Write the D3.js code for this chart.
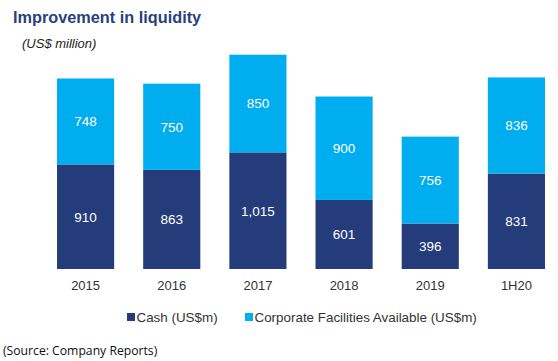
<!DOCTYPE html>
<html>
<head>
<meta charset="utf-8">
<script src="https://cdn.jsdelivr.net/npm/d3@7"></script>
<style>
  body { margin: 0; background: #fff; }
  svg { display: block; font-family: "Liberation Sans", Arial, sans-serif; }
</style>
</head>
<body>
<svg id="chart" width="558" height="361"></svg>
<script>
// data
const periods = ["2015", "2016", "2017", "2018", "2019", "1H20"];
const cash = [910, 863, 1015, 601, 396, 831];
const facilities = [748, 750, 850, 900, 756, 836];
const seriesNames = ["Cash (US$m)", "Corporate Facilities Available (US$m)"];

const navy = "#243c7a";
const sky = "#00adee";

const svg = d3.select("#chart");

const x = d3.scaleBand()
    .domain(periods)
    .range([42.5, 559.5])
    .paddingInner(0.337)
    .paddingOuter(0.1685);

const y = d3.scaleLinear()
    .domain([0, 1865])
    .range([269, 54.7]);

const rows = periods.map((p, i) => ({ period: p, cash: cash[i], facilities: facilities[i] }));
const stacked = d3.stack().keys(["cash", "facilities"])(rows);
const colors = [navy, sky];

// stacked bars
stacked.forEach((layer, li) => {
    svg.append("g").selectAll("rect")
        .data(layer)
        .join("rect")
        .attr("x", d => x(d.data.period))
        .attr("y", d => y(d[1]))
        .attr("width", x.bandwidth())
        .attr("height", d => y(d[0]) - y(d[1]))
        .attr("fill", colors[li]);

    svg.append("g").selectAll("text")
        .data(layer)
        .join("text")
        .attr("x", d => x(d.data.period) + x.bandwidth() / 2)
        .attr("y", d => (y(d[0]) + y(d[1])) / 2)
        .attr("dy", "0.36em")
        .attr("text-anchor", "middle")
        .attr("fill", "#fff")
        .attr("font-size", "13.5px")
        .text(d => d3.format(",")(d[1] - d[0]));
});

// x axis labels
svg.append("g")
    .attr("transform", "translate(0,269)")
    .call(d3.axisBottom(x).tickSize(0).tickPadding(12))
    .call(g => g.select(".domain").remove())
    .call(g => g.selectAll("text")
        .attr("font-size", "13px")
        .attr("fill", "#333")
        .attr("font-family", "Liberation Sans, Arial, sans-serif"));

// title
svg.append("text")
    .attr("x", 13).attr("y", 23)
    .attr("font-size", "16.3px")
    .attr("font-weight", "bold")
    .attr("fill", "#2b3f7e")
    .text("Improvement in liquidity");

svg.append("text")
    .attr("x", 22).attr("y", 47.5)
    .attr("font-size", "13px")
    .attr("font-style", "italic")
    .attr("fill", "#222")
    .text("(US$ million)");

// legend
const legendX = [127, 245];
seriesNames.forEach((name, i) => {
    const g = svg.append("g").attr("transform", `translate(${legendX[i]},317)`);
    g.append("rect")
        .attr("x", 0).attr("y", -4)
        .attr("width", 8).attr("height", 8)
        .attr("fill", colors[i]);
    g.append("text")
        .attr("x", 9.5).attr("y", 0)
        .attr("dy", "0.36em")
        .attr("font-size", "13.4px")
        .attr("fill", "#333")
        .text(name);
});

// source note
svg.append("text")
    .attr("x", 3).attr("y", 351)
    .attr("dy", "0.36em")
    .attr("font-size", "12.2px")
    .attr("font-family", "Open Sans, sans-serif")
    .attr("fill", "#111")
    .text("(Source:  Company Reports)");
</script>
</body>
</html>
